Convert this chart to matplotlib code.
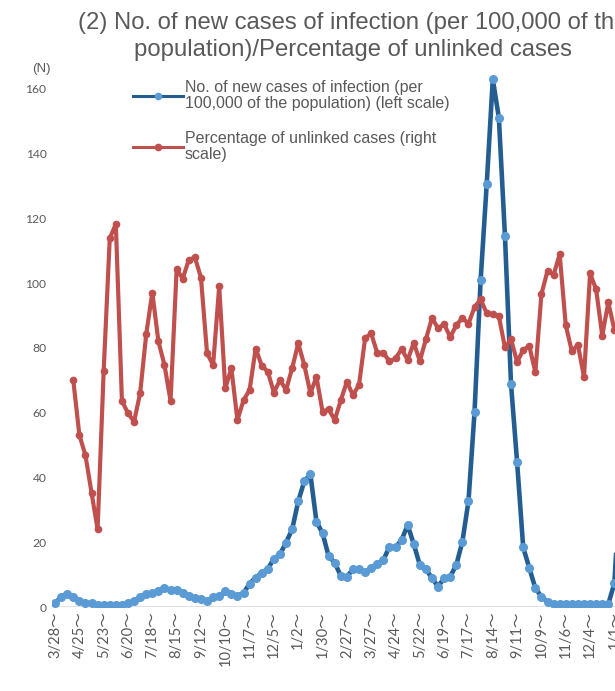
import matplotlib.pyplot as plt
from matplotlib.lines import Line2D
import numpy as np

# weekly series, week 0 = week starting 3/28 (2020)
new_cases = [1.1, 3.2, 4.0, 3.2, 2.0, 1.3, 1.1, 0.6, 0.6, 0.6,
             0.6, 0.6, 1.1, 1.7, 3.2, 4.0, 4.3, 4.8, 5.9, 5.3,
             5.3, 4.3, 3.5, 2.7, 2.5, 1.7, 3.2, 3.3, 4.8, 4.0,
             3.5, 4.3, 7.2, 9.1, 10.5, 11.8, 14.9, 16.3, 19.9, 24.0,
             32.6, 38.9, 41.0, 26.3, 22.8, 15.7, 13.7, 9.6, 9.4, 11.6,
             11.6, 10.7, 12.1, 13.3, 14.5, 18.6, 18.5, 20.7, 25.3, 19.4,
             13.0, 11.7, 8.9, 6.3, 8.9, 9.4, 13.0, 20.2, 32.7, 60.3,
             101.0, 130.6, 163.0, 151.1, 114.6, 68.8, 44.7, 18.4, 12.1, 5.8,
             3.2, 1.6, 0.9, 0.9, 0.9, 0.9, 0.9, 0.9, 0.9, 0.9,
             0.9, 0.9, 7.4, 40.0]

# percentage of unlinked cases, starts at week 3
unlinked_start = 3
unlinked_pct = [43.8, 33.2, 29.3, 22.1, 15.0, 45.6, 71.2, 73.9, 39.8, 37.4,
                35.8, 41.3, 52.7, 60.7, 51.3, 46.7, 39.8, 65.2, 63.4, 67.0,
                67.5, 63.6, 49.0, 46.7, 61.9, 42.2, 46.1, 36.1, 39.9, 41.9,
                49.9, 46.6, 45.4, 41.4, 43.8, 41.9, 46.1, 50.9, 46.7, 41.3,
                44.4, 37.7, 38.2, 36.1, 39.9, 43.5, 40.9, 42.9, 51.9, 52.8,
                49.0, 49.1, 47.4, 48.0, 49.8, 47.7, 51.0, 47.5, 51.7, 55.8,
                53.8, 54.6, 52.1, 54.4, 55.8, 54.7, 57.9, 59.4, 56.7, 56.5,
                56.1, 50.1, 51.7, 47.3, 49.6, 50.4, 45.3, 60.4, 64.9, 64.1,
                68.1, 54.4, 49.4, 50.6, 44.4, 64.4, 61.3, 52.4, 58.8, 53.5]

tick_labels = ['3/28', '4/25', '5/23', '6/20', '7/18', '8/15', '9/12', '10/10',
               '11/7', '12/5', '1/2', '1/30', '2/27', '3/27', '4/24', '5/22',
               '6/19', '7/17', '8/14', '9/11', '10/9', '11/6', '12/4', '1/1']

grey = '#595959'
blue_line = '#245d91'
blue_dot = '#5b9bd5'
red = '#c0504d'

fig = plt.figure(figsize=(6.15, 6.91), dpi=100)
W, H = 615, 691
y0_px, px_per_unit = 607, 3.2375
ytop = 170
ax = fig.add_axes([52 / W, (H - y0_px) / H, 1 - 52 / W, ytop * px_per_unit / H])

x_blue = np.arange(len(new_cases))
ax.plot(x_blue, new_cases, color=blue_line, lw=3.3, marker='o', ms=5.5,
        mfc=blue_dot, mec=blue_dot, solid_joinstyle='round', zorder=3)
ax.axhline(0, color='#d9d9d9', lw=1.8, zorder=1)
ax.set_xlim(-0.5, 92.1)
ax.set_ylim(0, ytop)
ax.set_yticks(range(0, 161, 20))
ax.set_xticks(np.arange(len(tick_labels)) * 4)
ax.set_xticklabels([t + '～' for t in tick_labels], rotation=90,
                   family=['Lato', 'Noto Sans CJK JP'], fontsize=10.5, color=grey)
for t in ax.get_yticklabels():
    t.set_family('Lato')
    t.set_fontsize(8.7)
    t.set_color(grey)
ax.tick_params(length=0, pad=4)
ax.tick_params(axis='x', pad=3)
for s in ax.spines.values():
    s.set_visible(False)

ax2 = ax.twinx()
x_red = np.arange(unlinked_start, unlinked_start + len(unlinked_pct))
ax2.plot(x_red, unlinked_pct, color=red, lw=3.0, marker='o', ms=4.5,
         mfc=red, mec=red, solid_joinstyle='round')
ax2.set_ylim(0, ytop * 100 / 160)
ax2.set_xlim(-0.5, 92.1)
ax2.tick_params(right=False, labelright=False)
for s in ax2.spines.values():
    s.set_visible(False)

fig.text(353 / W, 1 - 12 / H,
         '(2) No. of new cases of infection (per 100,000 of the\npopulation)/Percentage of unlinked cases',
         ha='center', va='top', fontsize=17.2, color=grey, family='Liberation Sans',
         linespacing=1.28)
fig.text(41 / W, 1 - 69 / H, '(N)', ha='center', va='center', fontsize=9.5,
         color=grey, family='Liberation Sans')

handles = [Line2D([], [], color=blue_line, lw=2.2, marker='o', ms=4.5, mfc=blue_dot, mec=blue_dot),
           Line2D([], [], color=red, lw=2.2, marker='o', ms=4.5, mfc=red, mec=red)]
labels = ['No. of new cases of infection (per\n100,000 of the population) (left scale)',
          'Percentage of unlinked cases (right\nscale)']
leg = fig.legend(handles, labels, loc='upper left', bbox_to_anchor=(133 / W, 1 - 80 / H),
                 frameon=False, prop={'family': 'Liberation Sans', 'size': 11.5},
                 labelcolor=grey, handlelength=3.1, handletextpad=0.15,
                 labelspacing=1.25, borderpad=0, borderaxespad=0)
for t in leg.get_texts():
    t.set_linespacing(1.1)

fig.savefig('out.png', dpi=100)
